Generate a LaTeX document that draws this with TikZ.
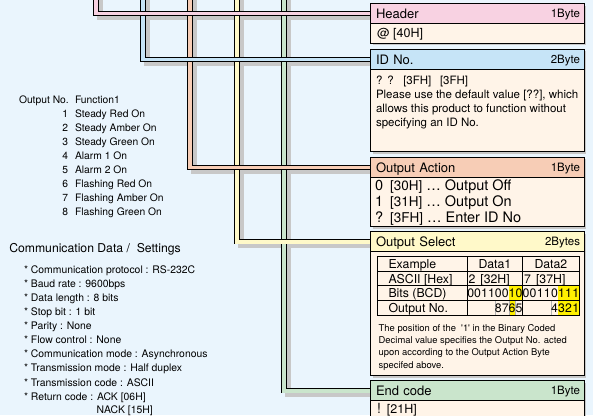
\documentclass[tikz,border=0pt]{standalone}
\usepackage{fontspec}
\setmainfont{TeX Gyre Heros}
\usetikzlibrary{positioning,shadows}

\definecolor{bgblue}{HTML}{EAF5FD}
\definecolor{bodyfill}{HTML}{FFF4E8}
\definecolor{hdrpink}{HTML}{F8D2E2}
\definecolor{idblue}{HTML}{C6E4F7}
\definecolor{actorange}{HTML}{F7CDB6}
\definecolor{selyellow}{HTML}{FFF9C9}
\definecolor{endgreen}{HTML}{CAE5CC}
\definecolor{shade}{HTML}{C8C8C8}
\definecolor{hilite}{HTML}{FFF000}

\pgfdeclarelayer{back}
\pgfsetlayers{back,main}

\begin{document}
\begin{tikzpicture}[x=1pt, y=-1pt,
    every node/.style={inner sep=0pt, outer sep=0pt},
    txt/.style={font=\fontsize{#1}{#1}\selectfont},
    bar/.style={draw, line width=0.9pt, fill=#1, anchor=north west,
                minimum height=20pt, text width=202.7pt, inner xsep=5.3pt,
                align=left, text height=10pt, text depth=0.5pt,
                font=\fontsize{13}{13}\selectfont,
                drop shadow={shadow xshift=2pt, shadow yshift=-2pt, fill=shade, opacity=1}},
    bytes/.style={font=\fontsize{11.5}{11.5}\selectfont, text height=8.3pt, text depth=0pt},
    body/.style={draw, line width=0.9pt, fill=bodyfill, minimum width=213.3pt,
                 minimum height=#1,
                 drop shadow={shadow xshift=2pt, shadow yshift=-2pt, fill=shade, opacity=1}},
    link/.style={draw, line width=0.75pt, double=#1, double distance=3.6pt, line join=miter},
    link shadow/.style={draw=shade, line width=5.1pt, line join=miter,
                        transform canvas={xshift=4pt, yshift=-4pt}}]
  \useasboundingbox (0,0) rectangle (593,415);

  % the five bytes of a command
  \node[bar=hdrpink] (hdr_title) at (370.7,3.5) {Header};
  \node[bytes, left=4pt of hdr_title.east] (hdr_size) {1Byte};
  \node[body=19.8pt, below=0pt of hdr_title] (hdr_body) {};
  \node[txt=12.5, anchor=base west] (hdr_text) at (377,37.5) {@ [40H]};

  \node[bar=idblue] (id_title) at (370.7,49.3) {ID No.};
  \node[bytes, left=4pt of id_title.east] (id_size) {2Byte};
  \node[body=82.4pt, below=0pt of id_title] (id_body) {};
  \node[txt=11.5, anchor=base west] (id_code) at (376,84.5)
    {?\hspace{4.9pt}?\hspace{9.6pt}[3FH]\hspace{8.6pt}[3FH]};
  \foreach \l [count=\k from 1] in {{Please use the default value [??], which},
      {allows this product to function without}, {specifying an ID No.}}
    \node[txt=11.5, anchor=base west] (id_line\k) at (376,84.5+14*\k) {\l};

  \node[bar=actorange] (act_title) at (370.7,157.3) {Output Action};
  \node[bytes, left=4pt of act_title.east] (act_size) {1Byte};
  \node[body=49.4pt, below=0pt of act_title] (act_body) {};
  \foreach \c/\h/\t [count=\k from 0] in {0/30H/Output Off, 1/31H/Output On, ?/3FH/Enter ID No}
    \node[txt=14.5, anchor=base west] (act_line\k) at (375,190.2+16.3*\k)
      {\c\hspace{7pt}{\fontsize{13.5}{13.5}\selectfont[\h]} … \t};

  \node[bar=selyellow] (sel_title) at (370.7,231.7) {Output Select};
  \node[bytes, left=4pt of sel_title.east] (sel_size) {2Bytes};
  \node[body=124pt, below=0pt of sel_title] (sel_body) {};

  \node[bar=endgreen] (end_title) at (370.7,380.7) {End code};
  \node[bytes, left=4pt of end_title.east] (end_size) {1Byte};
  \node[body=40pt, below=0pt of end_title] (end_body) {};
  \node[txt=14, anchor=base west] (end_text) at (377,413)
    {!\hspace{6pt}{\fontsize{12.5}{12.5}\selectfont[21H]}};

  % example table in the Output Select byte
  \fill[hilite] (508.9,285.7) rectangle (522.5,300.2);
  \fill[hilite] (558,285.7) rectangle (579.3,300.2);
  \fill[hilite] (508.9,300.2) rectangle (515.8,315);
  \fill[hilite] (558,300.2) rectangle (579.3,315);
  \foreach \x in {495.1,508.9,515.8,550.9}
    \draw[gray!60, line width=0.8pt] (\x,300.2) -- (\x,315);
  \draw[line width=1pt] (377,256.7) rectangle (579.3,315);
  \foreach \y in {271.2,285.7,300.2}
    \draw[line width=1pt] (377,\y) -- (579.3,\y);
  \foreach \x in {467.3,522.5}
    \draw[line width=1pt] (\x,256.7) -- (\x,315);
  \foreach \r/\t [count=\k from 0] in {ex/Example, ascii/ASCII [Hex], bits/Bits (BCD), outno/Output No.}
    \node[txt=12.3, anchor=base west] (row_\r) at (388.5,268.5+14.5*\k) {\t};
  \node[txt=12.3, anchor=base] (data_one) at (494.9,268.5) {Data1};
  \node[txt=12.3, anchor=base] (data_two) at (550.9,268.5) {Data2};
  \node[txt=12.3, anchor=base west] (ascii_one) at (468.5,283) {2\hspace{5pt}[32H]};
  \node[txt=12.3, anchor=base west] (ascii_two) at (524.2,283) {7\hspace{5pt}[37H]};
  \foreach \b [count=\i] in {0,0,1,1,0,0,1,0}
    \node[txt=12.3, anchor=base] (bit_a\i) at (467.3+6.9*\i-3.45,297.5) {\b};
  \foreach \b [count=\i] in {0,0,1,1,0,1,1,1}
    \node[txt=12.3, anchor=base] (bit_b\i) at (522.5+7.1*\i-3.55,297.5) {\b};
  \foreach \d [count=\i from 5] in {8,7,6,5}
    \node[txt=12.3, anchor=base] (no_a\d) at (467.3+6.9*\i-3.45,312) {\d};
  \foreach \d [count=\i from 5] in {4,3,2,1}
    \node[txt=12.3, anchor=base] (no_b\d) at (522.5+7.1*\i-3.55,312) {\d};
  \foreach \l [count=\k from 0] in
      {{The position of the \ \textquotesingle 1\textquotesingle{} in the Binary Coded},
       {Decimal value specifies the Output No. acted},
       {upon according to the Output Action Byte}, {specifed above.}}
    \node[txt=9.4, anchor=base west] (note_\k) at (378.7,331.1+12.4*\k) {\l};

  % output functions
  \node[txt=10.3, anchor=base west] (out_head) at (19,103) {Output No.};
  \node[txt=10.3, anchor=base west] (fn_head) at (75,103) {Function1};
  \foreach \n/\f in {1/Steady Red On, 2/Steady Amber On, 3/Steady Green On, 4/Alarm 1 On,
                     5/Alarm 2 On, 6/Flashing Red On, 7/Flashing Amber On, 8/Flashing Green On} {
    \node[txt=10.3, anchor=base east] (num_\n) at (68,103+14.1*\n) {\n};
    \node[txt=10.3, anchor=base west] (fn_\n) at (75,103+14.1*\n) {\f};
  }

  % communication settings
  \node[txt=12.2, anchor=base west] (comm_head) at (9.3,252) {Communication Data / \ Settings};
  \foreach \s [count=\k from 0] in {{Communication protocol : RS-232C}, {Baud rate : 9600bps},
      {Data length : 8 bits}, {Stop bit : 1 bit}, {Parity : None}, {Flow control : None},
      {Communication mode : Asynchronous}, {Transmission mode : Half duplex},
      {Transmission code : ASCII}, {Return code : ACK [06H]}}
    \node[txt=10.4, anchor=base west] (set_\k) at (24,273.6+14.05*\k) {* \s};
  \node[txt=10.4, anchor=base west] (set_nack) at (96.7,413.3) {NACK [15H]};

  \coordinate (hdr_top) at (96,-10);
  \coordinate (id_top) at (143,-10);
  \coordinate (act_top) at (190,-10);
  \coordinate (sel_top) at (237,-10);
  \coordinate (end_top) at (284,-10);

  \begin{pgfonlayer}{back}
    \fill[bgblue] (0,0) rectangle (593,415);
    % links from the top down to each byte
    \foreach \src/\dst in {end_top/end_title, sel_top/sel_title, act_top/act_title,
                           id_top/id_title, hdr_top/hdr_title}
      \path[link shadow] (\src) |- (\dst.west);
    \path[link=endgreen] (end_top) |- (end_title.west);
    \path[link=selyellow] (sel_top) |- (sel_title.west);
    \path[link=actorange] (act_top) |- (act_title.west);
    \path[link=idblue] (id_top) |- (id_title.west);
    \path[link=hdrpink] (hdr_top) |- (hdr_title.west);
  \end{pgfonlayer}
\end{tikzpicture}
\end{document}
